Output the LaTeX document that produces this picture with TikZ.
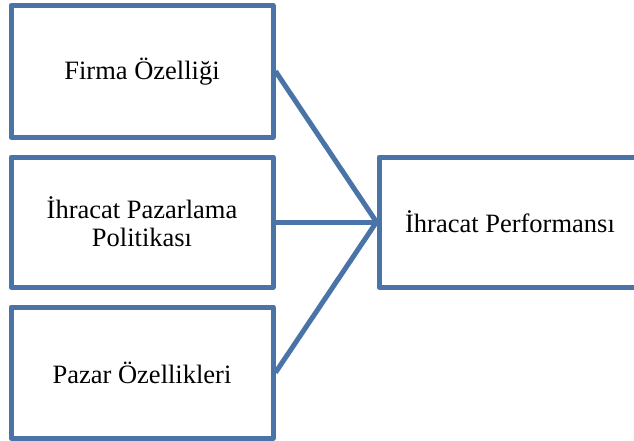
\documentclass[tikz,border=0pt]{standalone}
\usepackage{fontspec}
\setmainfont{Liberation Serif}
\definecolor{boxblue}{RGB}{74,116,168}
\begin{document}
\begin{tikzpicture}[x=1pt,y=-1pt,
  card/.style={draw=boxblue, line width=5pt, line join=round, fill=white,
    minimum width=262pt, inner sep=0pt, align=center,
    font=\fontsize{26.5}{27}\selectfont},
  link/.style={draw=boxblue, line width=5pt}]
\useasboundingbox (0,0) rectangle (634,441);
% three factor boxes on the left
\node[card, minimum height=131.5pt] (firma) at (142,71.25) {Firma Özelliği};
\node[card, minimum height=130pt] (politika) at (142,222) {İhracat Pazarlama\\[1pt]Politikası};
\node[card, minimum height=131pt] (pazar) at (142,372.5) {Pazar Özellikleri};
% outcome box on the right
\node[card, minimum height=130pt] (perf) at (510,222) {İhracat Performansı};
% connectors
\draw[link] (firma.east) -- (perf.west);
\draw[link] (politika.east) -- (perf.west);
\draw[link] (pazar.east) -- (perf.west);
\end{tikzpicture}
\end{document}
